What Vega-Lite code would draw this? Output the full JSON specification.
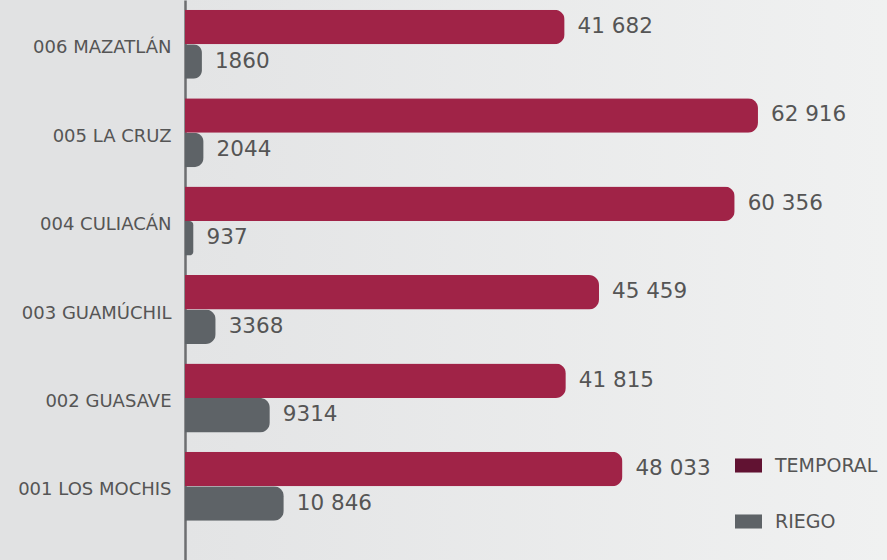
{
  "$schema": "https://vega.github.io/schema/vega-lite/v6.json",
  "autosize": "none",
  "width": 702,
  "height": 560,
  "padding": {"left": 185, "top": 0, "right": 0, "bottom": 0},
  "background": "#e1e2e3",
  "config": {
    "font": "DejaVu Sans",
    "view": {
      "stroke": null,
      "fill": {"gradient": "linear", "x1": 0, "x2": 1, "y1": 0, "y2": 0,
        "stops": [{"offset": 0, "color": "#e3e4e5"}, {"offset": 1, "color": "#f0f1f1"}]}
    }
  },
  "data": {"values": [
    {"distrito": "006 MAZATLÁN", "tipo": "TEMPORAL", "valor": 41682, "label": "41 682"},
    {"distrito": "006 MAZATLÁN", "tipo": "RIEGO", "valor": 1860, "label": "1860"},
    {"distrito": "005 LA CRUZ", "tipo": "TEMPORAL", "valor": 62916, "label": "62 916"},
    {"distrito": "005 LA CRUZ", "tipo": "RIEGO", "valor": 2044, "label": "2044"},
    {"distrito": "004 CULIACÁN", "tipo": "TEMPORAL", "valor": 60356, "label": "60 356"},
    {"distrito": "004 CULIACÁN", "tipo": "RIEGO", "valor": 937, "label": "937"},
    {"distrito": "003 GUAMÚCHIL", "tipo": "TEMPORAL", "valor": 45459, "label": "45 459"},
    {"distrito": "003 GUAMÚCHIL", "tipo": "RIEGO", "valor": 3368, "label": "3368"},
    {"distrito": "002 GUASAVE", "tipo": "TEMPORAL", "valor": 41815, "label": "41 815"},
    {"distrito": "002 GUASAVE", "tipo": "RIEGO", "valor": 9314, "label": "9314"},
    {"distrito": "001 LOS MOCHIS", "tipo": "TEMPORAL", "valor": 48033, "label": "48 033"},
    {"distrito": "001 LOS MOCHIS", "tipo": "RIEGO", "valor": 10846, "label": "10 846"}
  ]},
  "encoding": {
    "y": {
      "field": "distrito", "type": "nominal", "sort": null,
      "scale": {"paddingInner": 0.22, "paddingOuter": 0.277, "align": 0.2},
      "axis": {"title": null, "ticks": false, "labelFontSize": 18, "labelColor": "#555555",
        "labelPadding": 14, "labelOffset": 4, "domainColor": "#6d6e70", "domainWidth": 2.5, "labelLimit": 300}
    },
    "yOffset": {"field": "tipo", "type": "nominal", "sort": ["TEMPORAL", "RIEGO"], "scale": {"paddingInner": 0}},
    "x": {"field": "valor", "type": "quantitative", "scale": {"domain": [0, 77083], "nice": false}, "axis": null}
  },
  "layer": [
    {
      "mark": {"type": "bar", "cornerRadiusEnd": 10},
      "encoding": {
        "color": {"field": "tipo", "type": "nominal", "scale": {"domain": ["TEMPORAL", "RIEGO"], "range": ["#a02347", "#5e6367"]}, "legend": null}
      }
    },
    {
      "mark": {"type": "text", "align": "left", "baseline": "middle", "dx": 13, "fontSize": 21.5, "color": "#555555"},
      "encoding": {"text": {"field": "label"}}
    },
    {
      "mark": {"type": "point", "opacity": 0},
      "encoding": {
        "shape": {"field": "tipo", "type": "nominal", "scale": {"domain": ["TEMPORAL", "RIEGO"], "range": ["M-1,-0.52H1V0.52H-1Z", "M-1,-0.52H1V0.52H-1Z"]},
          "legend": {"title": null, "orient": "none", "legendX": 550, "legendY": 452, "symbolSize": 729, "symbolOpacity": 1,
            "symbolStrokeWidth": 0, "labelFontSize": 19, "labelColor": "#555555", "labelOffset": 13, "rowPadding": 32}},
        "fill": {"field": "tipo", "type": "nominal", "scale": {"domain": ["TEMPORAL", "RIEGO"], "range": ["#611232", "#5e6367"]}}
      }
    }
  ],
  "resolve": {"scale": {"color": "independent"}}
}
